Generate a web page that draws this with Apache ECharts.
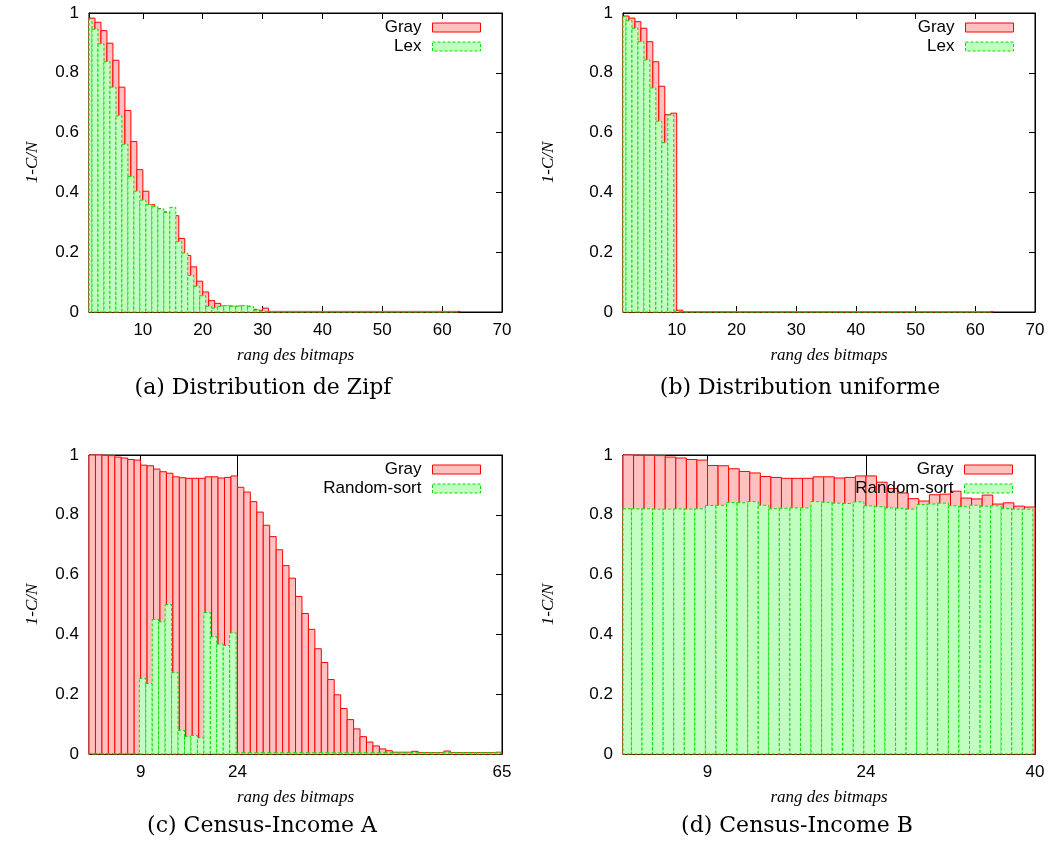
<!DOCTYPE html>
<html><head><meta charset="utf-8">
<script src="https://cdn.jsdelivr.net/npm/echarts@6/dist/echarts.min.js"></script>
<style>html,body{margin:0;padding:0;background:#fff}#c{width:1052px;height:850px}</style>
</head><body><div id="c"></div>
<script>
// ---------- data ----------
// (a) Distribution de Zipf
const zipfGray = [0.983,0.969,0.941,0.899,0.842,0.752,0.674,0.570,0.476,0.404,
  0.359,0.346,0.335,0.330,0.322,0.246,0.189,0.151,0.103,0.067,
  0.038,0.029,0.020,0.020,0.019,0.020,0.019,0.009,0.006,0.013,
  0.002,0.002,0.002,0.002,0.002,0.002,0.002,0.002,0.002,0.002,
  0.002,0.002,0.002,0.002,0.002,0.002,0.002,0.002,0.002,0.002,
  0.002,0.002,0.002,0.002,0.002,0.002,0.002,0.002,0.002,0.002,0.002,0.002];
const zipfLex = [0.980,0.946,0.897,0.837,0.752,0.656,0.561,0.453,0.404,0.374,
  0.359,0.352,0.345,0.333,0.350,0.235,0.197,0.122,0.086,0.054,
  0.019,0.013,0.019,0.021,0.019,0.019,0.021,0.019,0.006,0.003,
  0.001,0.001,0.001,0.001,0.001,0.001,0.001,0.001,0.001,0.001,
  0.001,0.001,0.001,0.001,0.001,0.001,0.001,0.001,0.001,0.001,
  0.001,0.001,0.001,0.001,0.001,0.001,0.001,0.001,0.001,0.001,0.001,0.001];
// (b) Distribution uniforme
const unifGray = [0.990,0.983,0.971,0.949,0.904,0.837,0.755,0.660,0.665,0.006,
  0.001,0.001,0.001,0.001,0.001,0.001,0.001,0.001,0.001,0.001,
  0.001,0.001,0.001,0.001,0.001,0.001,0.001,0.001,0.001,0.001,
  0.001,0.001,0.001,0.001,0.001,0.001,0.001,0.001,0.001,0.001,
  0.001,0.001,0.001,0.001,0.001,0.001,0.001,0.001,0.001,0.001,
  0.001,0.001,0.001,0.001,0.001,0.001,0.001,0.001,0.001,0.001,0.001,0.001];
const unifLex = [0.988,0.974,0.949,0.904,0.843,0.749,0.638,0.566,0.659,0.003,
  0.001,0.001,0.001,0.001,0.001,0.001,0.001,0.001,0.001,0.001,
  0.001,0.001,0.001,0.001,0.001,0.001,0.001,0.001,0.001,0.001,
  0.001,0.001,0.001,0.001,0.001,0.001,0.001,0.001,0.001,0.001,
  0.001,0.001,0.001,0.001,0.001,0.001,0.001,0.001,0.001,0.001,
  0.001,0.001,0.001,0.001,0.001,0.001,0.001,0.001,0.001,0.001,0.001,0.001];
// (c) Census-Income A
const censusAGray = [1.000,1.000,0.999,0.998,0.993,0.990,0.985,0.983,0.966,0.964,
  0.953,0.944,0.939,0.927,0.924,0.922,0.922,0.922,0.927,0.927,
  0.923,0.925,0.930,0.892,0.876,0.844,0.809,0.765,0.727,0.683,
  0.630,0.588,0.527,0.470,0.417,0.352,0.306,0.249,0.198,0.152,
  0.115,0.084,0.058,0.040,0.027,0.017,0.011,0.006,0.006,0.006,
  0.009,0.005,0.005,0.005,0.005,0.010,0.005,0.005,0.005,0.005,
  0.005,0.005,0.005,0.006];
const censusARandom = [0.002,0.002,0.002,0.002,0.002,0.002,0.002,0.002,0.253,0.236,
  0.450,0.442,0.500,0.273,0.079,0.059,0.062,0.054,0.473,0.392,
  0.368,0.363,0.405,0.004,0.004,0.004,0.004,0.004,0.004,0.004,
  0.004,0.004,0.004,0.004,0.004,0.004,0.004,0.004,0.004,0.004,
  0.004,0.004,0.004,0.004,0.004,0.004,0.004,0.004,0.004,0.004,
  0.004,0.004,0.004,0.004,0.004,0.004,0.004,0.004,0.004,0.004,
  0.004,0.004,0.004,0.004];
// (d) Census-Income B
const censusBGray = [1.000,0.999,0.999,0.998,0.993,0.990,0.985,0.983,0.965,0.964,
  0.954,0.945,0.940,0.928,0.925,0.922,0.922,0.922,0.927,0.927,
  0.923,0.925,0.930,0.930,0.909,0.888,0.873,0.854,0.846,0.867,
  0.869,0.879,0.856,0.853,0.866,0.836,0.840,0.829,0.826];
const censusBRandom = [0.820,0.820,0.820,0.819,0.819,0.820,0.819,0.820,0.831,0.832,
  0.841,0.840,0.844,0.832,0.820,0.822,0.823,0.823,0.844,0.842,
  0.839,0.838,0.843,0.830,0.827,0.823,0.822,0.819,0.834,0.836,
  0.839,0.830,0.827,0.832,0.829,0.830,0.821,0.819,0.819];

const ticksAB = [10,20,30,40,50,60,70];
const ticksC = [9,24,65];
const ticksD = [9,24,40];
const yTickStep = 0.2;

const captions = ['(a) Distribution de Zipf','(b) Distribution uniforme','(c) Census-Income A','(d) Census-Income B'];
const xTitle = 'rang des bitmaps';
const yTitle = '1-C/N';

// ---------- styling / layout ----------
const SANS = '"Liberation Sans", Arial, sans-serif';
const SERIF = '"Liberation Serif", "Times New Roman", serif';
const CAPSERIF = '"DejaVu Serif", serif';
const RED_FILL = '#ffc0c0', RED_LINE = '#ff0000';
const GRN_FILL = '#c0ffc0', GRN_LINE = '#00e000';

const panels = [
  {grid:{left:89, top:13, width:413, height:299}, max:70, ticks:ticksAB, grid2:false,
   s:[['Gray',zipfGray,0],['Lex',zipfLex,-0.5]], yGap:48, cap:[263,388], legRight:571},
  {grid:{left:623, top:13, width:412, height:299}, max:70, ticks:ticksAB, grid2:false,
   s:[['Gray',unifGray,0],['Lex',unifLex,-0.5]], yGap:66, cap:[800,388], legRight:38},
  {grid:{left:89, top:455, width:413, height:299}, max:65, ticks:ticksC, grid2:true,
   s:[['Gray',censusAGray,0],['Random-sort',censusARandom,-0.2]], yGap:48, cap:[262,826], legRight:571},
  {grid:{left:623, top:455, width:412, height:299}, max:40, ticks:ticksD, grid2:true,
   s:[['Gray',censusBGray,0],['Random-sort',censusBRandom,-0.2]], yGap:66, cap:[797,826], legRight:39}
];

function makeRender(offset, fill, stroke, dashed) {
  return function (params, api) {
    const x0 = api.value(0) + offset;
    const v = api.value(1);
    const p0 = api.coord([x0, v]);
    const p1 = api.coord([x0 + 1, 0]);
    const cs = params.coordSys;
    const shape = echarts.graphic.clipRectByRect(
      {x: p0[0], y: p0[1], width: p1[0] - p0[0], height: p1[1] - p0[1]},
      {x: cs.x, y: cs.y, width: cs.width, height: cs.height});
    if (!shape) return;
    return {type: 'rect', shape: shape,
      style: {fill: fill, stroke: stroke, lineWidth: 1, lineDash: dashed ? [3, 2] : null}};
  };
}

const grids = [], xAxes = [], yAxes = [], series = [], legends = [], graphics = [];
panels.forEach((p, k) => {
  grids.push(Object.assign({show: true, borderColor: '#000', borderWidth: 1, backgroundColor: 'transparent'}, p.grid));
  const lineStyle = {color: '#000', width: 1};
  xAxes.push({type: 'value', gridIndex: k, min: 1, max: p.max, position: 'bottom',
    name: xTitle, nameLocation: 'middle', nameGap: 35,
    nameTextStyle: {fontFamily: SERIF, fontStyle: 'italic', fontSize: 17, color: '#000'},
    axisLine: {show: true, onZero: false, lineStyle},
    axisTick: {show: true, inside: true, length: 6, customValues: p.ticks, lineStyle},
    axisLabel: {show: true, customValues: p.ticks, margin: 10, fontFamily: SANS, fontSize: 17, color: '#000'},
    splitLine: {show: p.grid2, lineStyle: {color: '#000', width: 1}}});
  xAxes.push({type: 'value', gridIndex: k, min: 1, max: p.max, position: 'top',
    axisLine: {show: true, onZero: false, lineStyle},
    axisTick: {show: true, inside: true, length: 6, customValues: p.ticks, lineStyle},
    axisLabel: {show: false, customValues: p.ticks}, splitLine: {show: false}});
  yAxes.push({type: 'value', gridIndex: k, min: 0, max: 1, interval: yTickStep, position: 'left',
    name: yTitle, nameLocation: 'middle', nameGap: p.yGap,
    nameTextStyle: {fontFamily: SERIF, fontStyle: 'italic', fontSize: 17, color: '#000'},
    axisLine: {show: true, lineStyle}, axisTick: {show: true, inside: true, length: 6, lineStyle},
    axisLabel: {margin: 10, fontFamily: SANS, fontSize: 17, color: '#000'},
    splitLine: {show: false}});
  yAxes.push({type: 'value', gridIndex: k, min: 0, max: 1, interval: yTickStep, position: 'right',
    axisLine: {show: true, lineStyle}, axisTick: {show: true, inside: true, length: 6, lineStyle},
    axisLabel: {show: false}, splitLine: {show: false}});
  p.s.forEach(([name, vals, off], j) => {
    const red = j === 0;
    series.push({type: 'custom', name: name, xAxisIndex: 2 * k, yAxisIndex: 2 * k,
      z: 2 + j, silent: true,
      itemStyle: {color: red ? RED_FILL : GRN_FILL},
      renderItem: makeRender(off, red ? RED_FILL : GRN_FILL, red ? RED_LINE : GRN_LINE, !red),
      encode: {x: 0, y: 1},
      data: vals.map((v, i) => [i + 1, v])});
  });
  legends.push({orient: 'vertical', align: 'right', right: p.legRight, top: p.grid.top + 6,
    padding: 0, itemGap: 2, itemWidth: 48, itemHeight: 9, icon: 'rect', selectedMode: false,
    textStyle: {fontFamily: SANS, fontSize: 17, lineHeight: 16, color: '#000', padding: [0, 6, 0, 0]},
    data: [
      {name: p.s[0][0], itemStyle: {color: RED_FILL, borderColor: RED_LINE, borderWidth: 1}},
      {name: p.s[1][0], itemStyle: {color: GRN_FILL, borderColor: GRN_LINE, borderWidth: 1, borderType: [3, 2]}}
    ]});
  graphics.push({type: 'text', x: p.cap[0], y: p.cap[1],
    style: {text: captions[k], fontFamily: CAPSERIF, fontSize: 22, fill: '#000', textAlign: 'center', textVerticalAlign: 'middle'}});
});

const chart = echarts.init(document.getElementById('c'), null, {renderer: 'canvas'});
chart.setOption({
  animation: false, backgroundColor: '#fff',
  grid: grids, xAxis: xAxes, yAxis: yAxes, series: series, legend: legends, graphic: graphics
});
</script></body></html>
